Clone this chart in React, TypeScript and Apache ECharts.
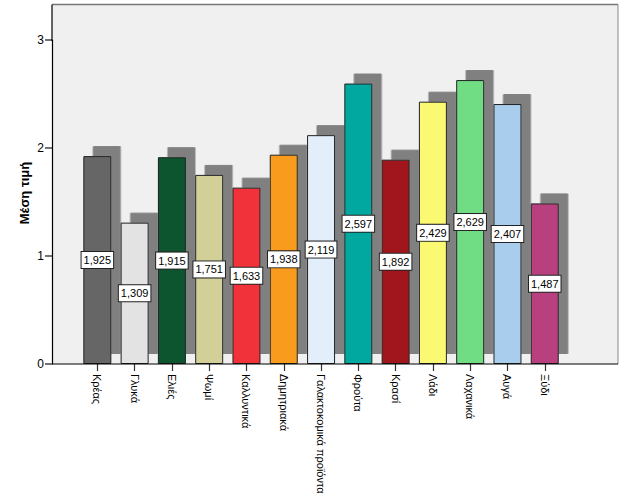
import React, { useEffect, useRef } from "react";
import * as echarts from "echarts";

const categories = [
  "Κρέας", "Γλυκά", "Ελιές", "Ψωμί", "Καλλυντικά", "Δημητριακά",
  "Γαλακτοκομικά προϊόντα", "Φρούτα", "Κρασί", "Λάδι", "Λαχανικά", "Αυγά", "Ξύδι",
];
const values = [1.925, 1.309, 1.915, 1.751, 1.633, 1.938, 2.119, 2.597, 1.892, 2.429, 2.629, 2.407, 1.487];
const colors = [
  "#666666", "#e3e3e3", "#0a552f", "#d3cf98", "#f2313b", "#f99b1f",
  "#e2eefa", "#00a8a0", "#a0161b", "#fbf872", "#6fdc84", "#a9cdec", "#b83f7e",
];
const yMin = 0;
const yMax = 3;
const yStep = 1;
const yName = "Μέση τιμή";

const FONT = "'Liberation Sans', Arial, sans-serif";

export default function App() {
  const ref = useRef<HTMLDivElement>(null);
  useEffect(() => {
    if (!ref.current) return;
    const chart = echarts.init(ref.current, undefined, { renderer: "svg" });
    const plotL = 52, plotR = 618, plotT = 4.5, plotB = 364, gridT = 40;
    chart.setOption({
      animation: false,
      backgroundColor: "#ffffff",
      textStyle: { fontFamily: FONT },
      grid: { left: 78.7, right: 626 - 563.4, top: gridT, bottom: 501 - plotB },
      graphic: [
        {
          type: "rect", z: -10, silent: true,
          shape: { x: plotL, y: plotT, width: plotR - plotL, height: plotB - plotT },
          style: { fill: "#f0f0f0" },
        },
        {
          type: "line", z: 10, silent: true,
          shape: { x1: plotL, y1: plotT, x2: plotR, y2: plotT },
          style: { stroke: "#777777", lineWidth: 1.5 },
        },
        {
          type: "line", z: 10, silent: true,
          shape: { x1: plotR, y1: plotT, x2: plotR, y2: plotB },
          style: { stroke: "#8a8a8a", lineWidth: 1 },
        },
        {
          type: "line", z: 10, silent: true,
          shape: { x1: plotL, y1: plotT, x2: plotL, y2: gridT + 1 },
          style: { stroke: "#000000", lineWidth: 1.2 },
        },
        {
          type: "line", z: 10, silent: true,
          shape: { x1: plotL, y1: plotB, x2: plotR, y2: plotB },
          style: { stroke: "#000000", lineWidth: 1.2 },
        },
        {
          type: "text", z: 10, silent: true,
          x: 24, y: 193, rotation: Math.PI / 2,
          style: {
            text: yName, fontFamily: FONT, fontSize: 13, fontWeight: "bold",
            fill: "#000", align: "center", verticalAlign: "middle",
          },
        },
      ],
      xAxis: {
        type: "category",
        data: categories,
        axisLine: { show: false },
        axisTick: { show: true, alignWithLabel: true, length: 7, lineStyle: { color: "#333", width: 1.2 } },
        axisLabel: { rotate: -90, margin: 10, fontSize: 11, color: "#000", fontFamily: FONT, interval: 0 },
        splitLine: { show: false },
      },
      yAxis: {
        type: "value",
        min: yMin,
        max: yMax,
        interval: yStep,
        offset: 78.7 - plotL,
        axisLine: { show: true, lineStyle: { color: "#000", width: 1.2 } },
        axisTick: { show: true, length: 7, lineStyle: { color: "#444", width: 1.5 } },
        axisLabel: { fontSize: 12, color: "#000", margin: 8, fontFamily: FONT },
        splitLine: { show: false },
      },
      series: [
        {
          type: "bar",
          barWidth: 28,
          data: values.map((v, i) => ({
            value: v,
            itemStyle: { color: colors[i] },
          })),
          itemStyle: {
            borderColor: "#222",
            borderWidth: 1,
            shadowColor: "#808080",
            shadowBlur: 0,
            shadowOffsetX: 9.5,
            shadowOffsetY: -10,
          },
          label: {
            show: true,
            position: "inside",
            formatter: (p: any) => p.value.toFixed(3).replace(".", ","),
            backgroundColor: "#ffffff",
            borderColor: "#222",
            borderWidth: 1,
            padding: [3, 2, 2, 2],
            fontSize: 11,
            color: "#000",
            fontFamily: FONT,
          },
          emphasis: { disabled: true },
        },
      ],
    });
    return () => chart.dispose();
  }, []);
  return (
    <div
      ref={ref}
      style={{ position: "fixed", left: 0, top: 0, width: 626, height: 501 }}
    />
  );
}
